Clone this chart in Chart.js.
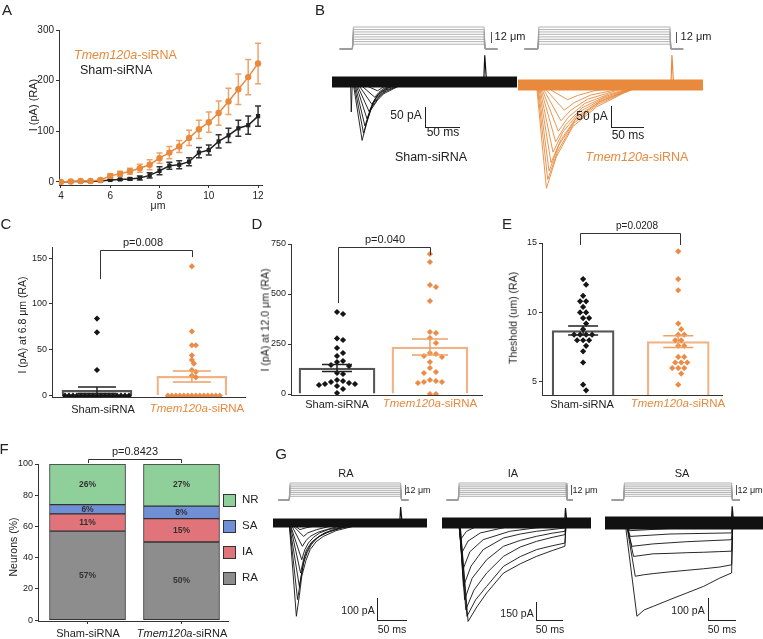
<!DOCTYPE html>
<html><head><meta charset="utf-8">
<script src="https://cdn.jsdelivr.net/npm/chart.js@4.4.0/dist/chart.umd.min.js"></script>
<style>
body{margin:0;background:#fff;}
#fig{position:relative;width:763px;height:639px;overflow:hidden;font-family:Arial,"Liberation Sans",sans-serif;color:#222;}
#fig canvas{position:absolute;}
.t{position:absolute;white-space:nowrap;line-height:1;transform:translate(-50%,-50%);}
.t.l{transform:translate(0,-50%);}
.t.v{transform:translate(-50%,-50%) rotate(-90deg);}
.ln{position:absolute;background:#222;}
.sw{position:absolute;width:13px;height:13px;border:1px solid #333;box-sizing:border-box;}
</style></head><body><div id="fig"></div>
<script>
// ---- A: I vs displacement ----
const dispUm = [4,4.4,4.8,5.2,5.6,6,6.4,6.8,7.2,7.6,8,8.4,8.8,9.2,9.6,10,10.4,10.8,11.2,11.6,12];
const tmemCurrent = [0,1,2,2,4,12,16,21,27,34,47,58,70,87,104,118,136,159,183,207,234];
const tmemCurrentSem = [0,0.5,1,1,2,4,5,6,8,10,10,12,12,15,18,20,24,26,30,35,40];
const shamCurrent = [0,1,1,1,2,4,5,6,8,13,22,32,34,40,58,63,80,92,106,112,130];
const shamCurrentSem = [0,0.5,0.5,0.5,1,1,1,2,4,5,8,7,8,8,10,10,13,14,16,18,20];
const aXTicks = [4,6,8,10,12];
const aYTicks = [0,100,200,300];

// ---- C: current at 6.8 um ----
const shamAt68 = [84,69,28,0,0,0,0,0,0,0,0,0,0,0,0,0,0,0,0,0];
const tmemAt68 = [141,70,55,55,44,39,35,28,26,22,20,0,0,0,0,0,0,0,0,0,0,0,0,0,0];
const meanAt68 = [6,21];
const semAt68 = [3.5,6];
const cYTicks = [0,50,100,150];

// ---- D: current at 12.0 um ----
const shamAt12 = [410,400,278,270,230,205,190,165,160,145,140,105,100,70,65,60,55,50,50,45,40,25,5];
const tmemAt12 = [700,660,545,535,465,310,305,280,255,205,200,190,185,160,130,110,105,70,65,60,60,55,0,0];
const meanAt12 = [130,235];
const semAt12 = [18,40];
const dYTicks = [0,250,500,750];

// ---- E: threshold ----
const shamThr = [12.4,12.0,11.2,10.8,10.8,10.4,10.0,10.0,9.6,9.6,9.2,8.8,8.4,8.4,8.4,8.4,8.0,8.0,8.0,7.6,7.2,6.4,4.8,4.4];
const tmemThr = [14.4,12.4,11.6,9.2,8.8,8.4,8.4,8.0,8.0,7.6,7.6,6.8,6.8,6.4,6.4,6.4,6.0,6.0,6.0,5.6,4.8];
const meanThr = [8.7,7.9];
const semThr = [0.33,0.42];
const eYTicks = [5,10,15];

// ---- F: neuron types ----
const typeNames = ['RA','IA','SA','NR'];
const typeColors = ['#8d8d8d','#e0747a','#7090d6','#8fcf99'];
const shamPct = [57,11,6,26];
const tmemPct = [50,15,8,27];
const fYTicks = [0,20,40,60,80,100];

// ---- B / G: traces as [ms, pA] ----
const stimLevels = [2.6,4.0,5.3,6.6,8.0,9.3,10.6,12.0];
const shamTracesB = [
  [[30,0],[43,-146],[49,-105],[55,-71],[65,-45],[74,-29],[98,-8],[125,0]],
  [[31,0],[45,-128],[51,-92],[57,-62],[67,-38],[76,-24],[100,-6],[122,0]],
  [[32,0],[47,-110],[53,-78],[59,-52],[69,-32],[78,-20],[100,-5],[120,0]],
  [[33,0],[50,-92],[56,-64],[62,-42],[72,-25],[81,-15],[100,-4],[118,0]],
  [[34,0],[53,-74],[59,-50],[65,-33],[75,-19],[84,-11],[115,0]],
  [[35,0],[57,-56],[63,-38],[69,-25],[79,-14],[88,-8],[112,0]],
  [[36,0],[61,-38],[67,-26],[73,-17],[83,-9],[108,0]],
  [[37,0],[65,-22],[71,-15],[78,-9],[90,-4],[105,0]],
  [[26.5,0],[27.5,-75],[29,0]]
];
const tmemTracesB = [
  [[28,0],[43,-246],[58,-171],[83,-99],[119,-52],[159,-20],[190,0]],
  [[29,0],[45,-225],[60,-158],[85,-90],[121,-46],[160,-18],[190,0]],
  [[30,0],[47,-205],[62,-143],[87,-82],[123,-41],[162,-16],[188,0]],
  [[31,0],[50,-185],[65,-130],[90,-74],[126,-37],[164,-14],[186,0]],
  [[32,0],[53,-160],[68,-112],[93,-64],[129,-32],[166,-12],[184,0]],
  [[33,0],[57,-135],[72,-95],[97,-54],[133,-27],[168,-10],[182,0]],
  [[34,0],[61,-110],[76,-77],[101,-44],[137,-22],[170,-8],[180,0]],
  [[35,0],[65,-85],[80,-60],[105,-34],[141,-17],[175,0]],
  [[36,0],[70,-60],[85,-42],[110,-24],[146,-12],[172,0]],
  [[37,0],[75,-35],[90,-25],[115,-14],[150,-7],[168,0]]
];
const raTraces = [
  [[27,0],[39,-424],[44,-330],[48,-242],[55,-170],[62,-121],[72,-85],[84,-61],[105,-35],[134,-15],[165,0]],
  [[27,0],[41,-348],[46,-260],[51,-182],[57,-135],[64,-98],[75,-65],[89,-45],[110,-25],[139,-12],[165,0]],
  [[27,0],[44,-288],[49,-210],[53,-152],[60,-110],[67,-83],[80,-55],[95,-38],[120,-18],[150,0]],
  [[28,0],[46,-227],[51,-165],[56,-121],[64,-88],[73,-68],[86,-45],[101,-30],[125,-12],[150,0]],
  [[28,0],[48,-167],[53,-122],[59,-91],[68,-64],[78,-45],[92,-30],[106,-23],[140,0]],
  [[29,0],[49,-106],[55,-80],[62,-61],[75,-42],[89,-30],[110,-15],[135,0]],
  [[29,0],[51,-61],[58,-45],[73,-30],[95,-15],[120,0]],
  [[30,0],[45,-30],[55,-22],[67,-15],[90,-5],[110,0]]
];
const iaTraces = [
  [[31,0],[45,-820],[60,-700],[77,-583],[106,-417],[135,-340],[163,-278],[190,-230],[212,-194],[214,0]],
  [[31,0],[43,-778],[58,-640],[77,-528],[106,-361],[135,-280],[163,-222],[190,-190],[212,-167],[214,0]],
  [[30,0],[41,-722],[55,-560],[77,-417],[106,-278],[135,-200],[163,-153],[190,-120],[212,-97],[214,0]],
  [[30,0],[39,-639],[52,-460],[77,-306],[106,-194],[135,-145],[163,-111],[190,-85],[212,-69],[214,0]],
  [[30,0],[37,-528],[50,-360],[71,-222],[106,-125],[135,-92],[163,-69],[212,-42],[214,0]],
  [[29,0],[36,-389],[48,-240],[71,-139],[117,-69],[163,-40],[212,-22],[214,0]],
  [[29,0],[34,-250],[45,-150],[66,-83],[117,-28],[170,0]],
  [[29,0],[32,-139],[42,-70],[60,-28],[100,0]]
];
const saTraces = [
  [[36,0],[57,-424],[70,-395],[86,-379],[116,-348],[146,-318],[176,-288],[205,-250],[226,-227],[228,0]],
  [[38,0],[54,-242],[70,-235],[86,-230],[116,-222],[146,-215],[176,-208],[205,-200],[226,-190],[228,0]],
  [[38,0],[51,-152],[86,-140],[116,-138],[146,-135],[176,-133],[205,-130],[226,-128],[228,0]],
  [[38,0],[48,-106],[86,-95],[146,-85],[226,-76],[228,0]],
  [[38,0],[45,-61],[116,-50],[226,-45],[228,0]],
  [[38,0],[44,-35],[116,-25],[226,-20],[228,0]]
];
// stimulus timing: [baseline start, step on, step off, baseline end] (ms); off-response [ms, pA]
const stimShamB = [11,29,217,236], spikeShamB = [218,67];
const stimTmemB = [10,30,230,250], spikeTmemB = [233,71];
const stimRA = [9,27,213,226], spikeRA = [213,73];
const stimIA = [8,28,214,226], spikeIA = [213,125];
const stimSA = [12,33,226,241], spikeSA = [227,76];

const FONT = 'Arial, "Liberation Sans", sans-serif';
const ORANGE = '#e8893c';
Chart.defaults.font.family = FONT;
Chart.defaults.color = '#222';

const fig = document.getElementById('fig');
function canvas(x, y, w, h) {
  const c = document.createElement('canvas');
  c.width = w; c.height = h;
  c.style.left = x + 'px'; c.style.top = y + 'px';
  fig.appendChild(c);
  return c;
}
function T(html, cx, cy, size, cls, color, extra) {
  const d = document.createElement('div');
  d.className = 't ' + (cls || '');
  d.style.left = cx + 'px'; d.style.top = cy + 'px';
  d.style.fontSize = size + 'px';
  if (color) d.style.color = color;
  if (extra) d.style.cssText += extra;
  d.innerHTML = html;
  fig.appendChild(d);
}
function L(x, y, w, h, color) {
  const d = document.createElement('div');
  d.className = 'ln';
  d.style.left = x + 'px'; d.style.top = y + 'px';
  d.style.width = w + 'px'; d.style.height = h + 'px';
  if (color) d.style.background = color;
  fig.appendChild(d);
}

function axis(s, dir, size) {
  return {
    type: 'linear', min: s.min, max: s.max, stacked: !!s.stacked, offset: false,
    afterBuildTicks: sc => { sc.ticks = (s.ticks || []).map(v => ({value: v})); },
    afterFit: sc => { if (dir === 'x') sc.height = size; else sc.width = size; },
    grid: {display: !!(s.ticks && s.ticks.length), drawOnChartArea: false, drawTicks: true, tickLength: 3, color: '#333', lineWidth: 1, offset: false},
    border: {display: true, color: '#333', width: 1},
    ticks: {display: s.labels !== false, autoSkip: false, maxRotation: 0, font: {size: s.font || 9}, color: '#222', padding: 2,
            callback: v => s.labels === false ? '' : v}
  };
}
function fixedOpts(w, h, box, sx, sy) {
  return {
    responsive: false, animation: false, events: [],
    layout: {padding: {left: 0, top: box.top, right: w - box.right, bottom: 0}},
    plugins: {legend: {display: false}, tooltip: {enabled: false}},
    scales: {x: axis(sx, 'x', h - box.bottom), y: axis(sy, 'y', box.left)}
  };
}
function errorBars(items, phase) {
  const draw = chart => {
    const {ctx, scales: {x, y}} = chart;
    ctx.save();
    items.forEach(it => {
      if (!it.sem) return;
      const px = x.getPixelForValue(it.x);
      const top = y.getPixelForValue(it.mean + it.sem), bot = y.getPixelForValue(it.mean - it.sem);
      ctx.strokeStyle = it.color; ctx.lineWidth = it.lw || 1.5;
      ctx.beginPath();
      ctx.moveTo(px, top); ctx.lineTo(px, bot);
      ctx.moveTo(px - it.cap / 2, top); ctx.lineTo(px + it.cap / 2, top);
      ctx.moveTo(px - it.cap / 2, bot); ctx.lineTo(px + it.cap / 2, bot);
      ctx.stroke();
    });
    ctx.restore();
  };
  return phase === 'before' ? {id: 'errb', beforeDatasetsDraw: draw} : {id: 'erra', afterDatasetsDraw: draw};
}
function bracket(b) {
  return {id: 'bracket', afterDraw(chart) {
    const {ctx, scales: {x, y}} = chart;
    const x1 = Math.round(x.getPixelForValue(b.x1)) + 0.5, x2 = Math.round(x.getPixelForValue(b.x2)) + 0.5;
    const yt = Math.round(y.getPixelForValue(b.y)) + 0.5;
    ctx.save(); ctx.strokeStyle = '#333'; ctx.lineWidth = 1;
    ctx.beginPath();
    ctx.moveTo(x1, y.getPixelForValue(b.y1)); ctx.lineTo(x1, yt); ctx.lineTo(x2, yt); ctx.lineTo(x2, y.getPixelForValue(b.y2));
    ctx.stroke(); ctx.restore();
  }};
}
// non-overlapping horizontal placement of dots around a category centre
function swarm(values, center, pxX, pxY, dist) {
  const placed = [], xs = new Array(values.length);
  const order = values.map((v, i) => i).sort((a, b) => values[b] - values[a]);
  for (const i of order) {
    const py = values[i] * pxY;
    for (let k = 0; k < 400; k++) {
      const off = (k % 2 ? 1 : -1) * Math.ceil(k / 2) * dist / 2;
      if (placed.every(p => Math.hypot(p[0] - off, p[1] - py) >= dist - 0.01)) {
        placed.push([off, py]); xs[i] = center + off / pxX; break;
      }
    }
  }
  return xs;
}

// ---------- Panel A ----------
(function(){
  const w = 275, h = 215, box = {left: 59, top: 30, right: 262, bottom: 185};
  const opts = fixedOpts(w, h, box, {min: 3.92, max: 12.16, ticks: aXTicks, font: 10}, {min: -6, max: 300, ticks: aYTicks, font: 10});
  const errs = dispUm.map((x, i) => ({x, mean: shamCurrent[i], sem: shamCurrentSem[i], color: '#333', cap: 6}))
    .concat(dispUm.map((x, i) => ({x, mean: tmemCurrent[i], sem: tmemCurrentSem[i], color: '#eda46a', cap: 6})));
  new Chart(canvas(0, 0, w, h), {
    type: 'line',
    data: {datasets: [
      {data: dispUm.map((x, i) => ({x, y: tmemCurrent[i]})), borderColor: ORANGE, backgroundColor: ORANGE, pointStyle: 'circle', pointRadius: 3.2, borderWidth: 1.5, pointBorderWidth: 0},
      {data: dispUm.map((x, i) => ({x, y: shamCurrent[i]})), borderColor: '#222', backgroundColor: '#222', pointStyle: 'rect', pointRadius: 3, borderWidth: 1.5, pointBorderWidth: 0}
    ]},
    options: opts,
    plugins: [errorBars(errs, 'before')]
  });
})();

// ---------- Panels C, D, E ----------
function dotBar(cv, w, h, box, xr, yr, groups, means, sems, caps, dist, brk, floating) {
  const pxX = (box.right - box.left) / (xr[1] - xr[0]);
  const pxY = (box.bottom - box.top) / (yr.max - yr.min);
  const ds = [{
    type: 'bar',
    data: means.map((m, i) => ({x: i + 1, y: floating ? [yr.min, m] : m})),
    backgroundColor: 'rgba(0,0,0,0)', borderColor: ['#555', '#f3b284'], borderWidth: 1.6,
    barThickness: xr[2], order: 3
  }];
  const colors = ['#151515', '#ec8b46'];
  groups.forEach((vals, g) => {
    const xs = swarm(vals, g + 1, pxX, pxY, dist);
    ds.push({type: 'line', showLine: false, order: 1,
      data: vals.map((v, i) => ({x: xs[i], y: v})),
      pointStyle: 'rectRot', pointRadius: 3.1, pointBorderWidth: 0,
      backgroundColor: colors[g], borderColor: colors[g]});
  });
  const errs = means.map((m, i) => ({x: i + 1, mean: m, sem: sems[i], color: i ? '#eea066' : '#222', cap: caps[i]}));
  new Chart(cv, {
    type: 'bar',
    data: {datasets: ds},
    options: fixedOpts(w, h, box, {min: xr[0], max: xr[1], ticks: [], labels: false}, yr),
    plugins: [errorBars(errs, 'after'), bracket(brk)]
  });
}
dotBar(canvas(0, 225, 250, 190), 250, 190, {left: 52, top: 22, right: 245, bottom: 172},
  [0.526, 2.56, 70], {min: -1.4, max: 162, ticks: cYTicks},
  [shamAt68, tmemAt68], meanAt68, semAt68, [38, 38], 4,
  {x1: 1.03, x2: 2, y: 158.7, y1: 127, y2: 151}, false);
dotBar(canvas(250, 225, 250, 190), 250, 190, {left: 41, top: 19, right: 232, bottom: 170},
  [0.505, 2.56, 76], {min: -5, max: 750, ticks: dYTicks},
  [shamAt12, tmemAt12], meanAt12, semAt12, [30, 36], 6,
  {x1: 1.01, x2: 2, y: 735, y1: 455, y2: 695}, false);
dotBar(canvas(500, 218, 263, 197), 263, 197, {left: 42, top: 25, right: 222, bottom: 177},
  [0.568, 2.46, 62], {min: 4.06, max: 15, ticks: eYTicks},
  [shamThr, tmemThr], meanThr, semThr, [30, 30], 6,
  {x1: 0.97, x2: 2.02, y: 15.72, y1: 14.86, y2: 14.86}, true);

// ---------- Panel F ----------
(function(){
  const w = 230, h = 190, box = {left: 38, top: 24, right: 228, bottom: 181};
  const opts = fixedOpts(w, h, box, {min: 0.473, max: 2.495, ticks: [1, 2], labels: false, stacked: true},
                         {min: -0.6, max: 100, ticks: fYTicks, stacked: true});
  const pct = {id: 'pct', afterDatasetsDraw(chart) {
    const ctx = chart.ctx; ctx.save();
    ctx.font = 'bold 8.5px ' + FONT; ctx.fillStyle = '#333'; ctx.textAlign = 'center'; ctx.textBaseline = 'middle';
    chart.data.datasets.forEach((d, i) => chart.getDatasetMeta(i).data.forEach((el, j) => {
      ctx.fillText(d.data[j].y + '%', el.x, (el.y + el.base) / 2);
    }));
    ctx.restore();
  }};
  new Chart(canvas(0, 440, w, h), {
    type: 'bar',
    data: {datasets: typeNames.map((n, k) => ({
      label: n, data: [{x: 1, y: shamPct[k]}, {x: 2, y: tmemPct[k]}],
      backgroundColor: typeColors[k], borderColor: '#333', borderWidth: 1, borderSkipped: false, barThickness: 76
    }))},
    options: opts,
    plugins: [pct, bracket({x1: 1, x2: 2, y: 103.2, y1: 100.6, y2: 100.6})]
  });
})();

// ---------- Trace panels (B, G) ----------
function traceChart(cv, cfg) {
  const h = cv.height;
  const ds = [{data: [{x: 0, y: 0}, {x: cfg.tMax, y: 0}], borderColor: cfg.color, borderWidth: cfg.band}];
  cfg.traces.forEach(tr => ds.push({data: tr.map(p => ({x: p[0], y: p[1]})), borderColor: cfg.color, borderWidth: 0.9}));
  const sp = cfg.spike;
  ds.push({data: [{x: sp[0] - 1.5, y: 0}, {x: sp[0], y: sp[1]}, {x: sp[0] + 2.5, y: 0}], borderColor: cfg.color, borderWidth: 1.2});
  const st = cfg.stim;
  stimLevels.forEach(lv => ds.push({yAxisID: 'yStim', borderColor: '#9d9d9d', borderWidth: 0.8,
    data: [{x: st[0], y: 0}, {x: st[1], y: 0}, {x: st[1] + 1.5, y: lv}, {x: st[2], y: lv}, {x: st[2] + 1.5, y: 0}, {x: st[3], y: 0}]}));
  new Chart(cv, {
    type: 'line', data: {datasets: ds},
    options: {
      responsive: false, animation: false, events: [],
      layout: {padding: 0},
      elements: {point: {radius: 0}, line: {tension: 0, fill: false}},
      plugins: {legend: {display: false}, tooltip: {enabled: false}},
      scales: {
        x: {type: 'linear', display: false, min: 0, max: cfg.tMax},
        y: {type: 'linear', display: false, min: -(h - cfg.iZero) / cfg.iScale, max: cfg.iZero / cfg.iScale},
        yStim: {type: 'linear', axis: 'y', display: false, min: -(h - cfg.sZero) / cfg.sScale, max: cfg.sZero / cfg.sScale}
      }
    }
  });
}
traceChart(canvas(332, 20, 185, 128), {tMax: 264, iZero: 62, iScale: 0.4, sZero: 29, sScale: 22 / 12,
  color: '#111', band: 11, traces: shamTracesB, stim: stimShamB, spike: spikeShamB});
traceChart(canvas(518, 20, 185, 175), {tMax: 280, iZero: 65, iScale: 0.42, sZero: 29, sScale: 22 / 12,
  color: ORANGE, band: 11, traces: tmemTracesB, stim: stimTmemB, spike: spikeTmemB});
traceChart(canvas(273, 478, 154, 148), {tMax: 257, iZero: 45, iScale: 0.22, sZero: 22, sScale: 17 / 12,
  color: '#111', band: 9, traces: raTraces, stim: stimRA, spike: spikeRA});
traceChart(canvas(442, 478, 149, 148), {tMax: 257, iZero: 45, iScale: 0.12, sZero: 22, sScale: 17 / 12,
  color: '#111', band: 11, traces: iaTraces, stim: stimIA, spike: spikeIA});
traceChart(canvas(605, 478, 158, 148), {tMax: 282, iZero: 45, iScale: 0.22, sZero: 22, sScale: 17 / 12,
  color: '#111', band: 13, traces: saTraces, stim: stimSA, spike: spikeSA});

// ---------- Text and scale bars ----------
const TM = '<i>Tmem120a</i>-siRNA';
T('A', 7, 9, 15); T('B', 320, 9, 15); T('C', 6, 223, 15); T('D', 257, 223, 15);
T('E', 507, 223, 15); T('F', 4, 448, 15); T('G', 281, 453, 15);
// A
T(TM, 74, 55, 12.5, 'l', ORANGE); T('Sham-siRNA', 80, 70, 12.5, 'l');
T('μm', 158, 205, 10.5); T('I (pA) (RA)', 33, 105, 11, 'v');
// B
L(491, 32, 1, 11, '#555'); T('12 μm', 510, 36, 11);
L(676, 32, 1, 11, '#555'); T('12 μm', 696, 36, 11);
L(425, 107, 1, 21); L(425, 127, 35, 1); T('50 pA', 406, 115, 12); T('50 ms', 443, 132, 12);
L(611, 106, 1, 22); L(611, 127, 33, 1); T('50 pA', 592, 116, 12); T('50 ms', 628, 135, 12);
T('Sham-siRNA', 431, 157, 12.5); T(TM, 637, 157, 12.5, '', ORANGE);
// C, D, E
T('p=0.008', 143, 242, 11); T('Sham-siRNA', 103, 409, 11); T(TM, 197, 409, 11.5, '', ORANGE);
T('I (pA) at 6.8 μm (RA)', 22, 325, 10.5, 'v');
T('p=0.040', 385, 239, 11); T('Sham-siRNA', 337, 404, 11); T(TM, 430, 404, 11.5, '', ORANGE);
T('I (pA) at 12.0 μm (RA)', 265, 320, 10.5, 'v');
T('p=0.0208', 637, 226, 10); T('Sham-siRNA', 582, 404, 11); T(TM, 678, 404, 11.5, '', ORANGE);
T('Theshold (um) (RA)', 513, 318, 10.5, 'v');
// F
T('p=0.8423', 135, 451, 11); T('Sham-siRNA', 88, 633, 11); T(TM, 182, 633, 11);
T('Neurons (%)', 13, 547, 10.5, 'v');
const legY = [578, 552, 526, 500];
typeNames.forEach((n, k) => {
  const d = document.createElement('div');
  d.className = 'sw'; d.style.left = '223px'; d.style.top = (legY[k] - 6.5) + 'px'; d.style.background = typeColors[k];
  fig.appendChild(d);
  T(n, 242, legY[k], 11.5, 'l');
});
// G
T('RA', 346, 473, 11); T('IA', 513, 473, 11); T('SA', 682, 473, 11);
L(405, 485, 1, 10, '#555'); T('12 μm', 418, 490, 9);
L(571, 485, 1, 10, '#555'); T('12 μm', 585, 490, 9);
L(736, 485, 1, 10, '#555'); T('12 μm', 750, 490, 9);
L(377, 598, 1, 22); L(377, 620, 30, 1); T('100 pA', 358, 610, 10.5); T('50 ms', 392, 629, 10.5);
L(536, 602, 1, 18); L(536, 620, 27, 1); T('150 pA', 517, 613, 10.5); T('50 ms', 550, 629, 10.5);
L(708, 598, 1, 22); L(708, 620, 28, 1); T('100 pA', 688, 610, 10.5); T('50 ms', 722, 629, 10.5);
</script>
</body></html>
